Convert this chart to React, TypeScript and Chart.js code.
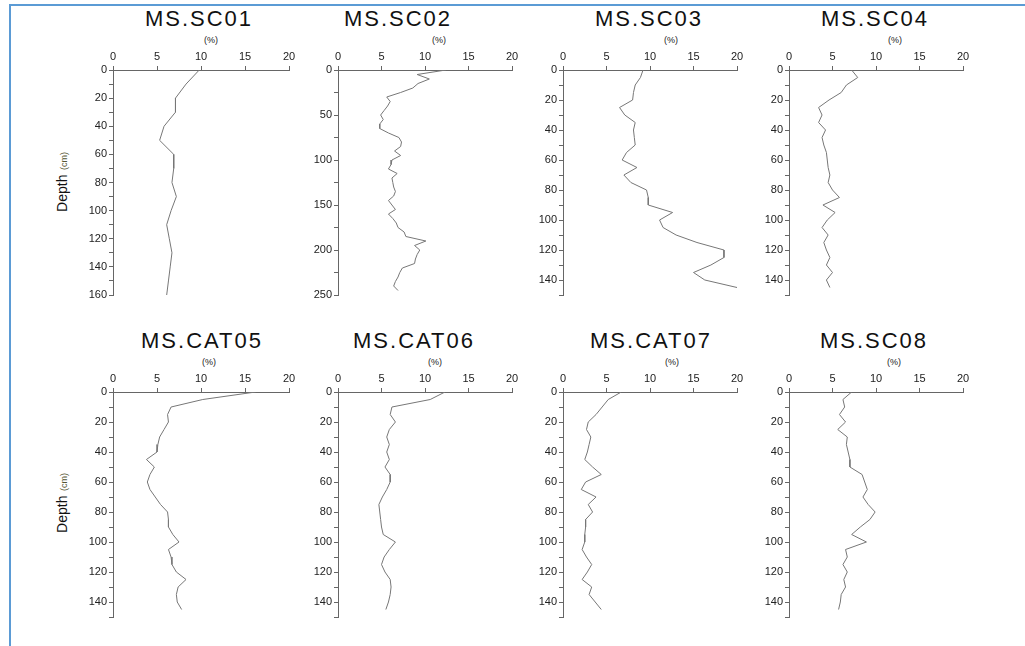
import React, { useEffect, useRef } from "react";
import { Chart, registerables } from "chart.js";

Chart.register(...registerables);

// Magnetic susceptibility (%) against core depth (cm)
const depthsSC01 = [0, 10, 20, 30, 40, 50, 60, 70, 80, 90, 100, 110, 120, 130, 140, 150, 160];
const valuesSC01 = [9.8, 8.3, 7.1, 7.1, 5.8, 5.3, 6.9, 6.9, 6.7, 7.2, 6.6, 6.1, 6.4, 6.7, 6.5, 6.3, 6.1];

const depthsSC02 = [
  0, 5, 10, 15, 20, 25, 30, 35, 40, 45, 50, 55, 60, 65, 70, 75, 80, 85, 90, 95, 100, 105, 110, 115, 120,
  125, 130, 135, 140, 145, 150, 155, 160, 165, 170, 175, 180, 185, 190, 195, 200, 205, 210, 215, 220, 225,
  230, 235, 240, 245,
];
const valuesSC02 = [
  12.4, 9.1, 10.5, 9.2, 8.6, 7.2, 5.6, 6.0, 5.7, 5.3, 4.9, 5.2, 4.8, 4.8, 5.8, 7.0, 7.3, 7.2, 6.5, 7.2, 6.2,
  6.1, 5.8, 6.8, 6.2, 6.3, 6.4, 6.6, 6.4, 5.8, 6.2, 6.6, 5.8, 6.3, 6.7, 6.9, 7.6, 7.8, 10.1, 8.8, 9.4, 9.1,
  8.9, 8.8, 7.4, 7.1, 6.9, 6.6, 6.4, 6.9,
];

// Shared sampling depths of the 150 cm cores
const depths150 = [
  0, 5, 10, 15, 20, 25, 30, 35, 40, 45, 50, 55, 60, 65, 70, 75, 80, 85, 90, 95, 100, 105, 110, 115, 120,
  125, 130, 135, 140, 145,
];
const valuesSC03 = [
  9.2, 8.9, 8.3, 8.1, 8.0, 6.5, 7.1, 8.3, 8.1, 8.2, 8.3, 7.3, 6.8, 8.5, 7.0, 7.8, 9.6, 9.8, 9.8, 12.6, 11.1,
  11.5, 13.0, 15.4, 18.5, 18.5, 17.0, 15.0, 16.3, 20.0,
];
const valuesSC04 = [
  7.2, 7.9, 6.6, 6.0, 4.6, 3.4, 3.8, 3.4, 4.2, 3.8, 4.0, 4.3, 4.4, 4.5, 4.7, 4.5, 5.0, 5.8, 3.9, 5.3, 4.4,
  3.8, 4.5, 4.0, 4.3, 4.7, 4.3, 5.0, 4.3, 4.7,
];
const valuesCAT05 = [
  16.2, 10.2, 6.6, 6.2, 6.3, 5.8, 5.3, 5.1, 5.0, 3.8, 4.7, 4.2, 3.9, 4.2, 4.8, 5.4, 6.2, 6.3, 6.3, 6.8, 7.5,
  6.3, 6.6, 6.7, 7.2, 8.3, 7.4, 7.2, 7.3, 7.8,
];
const valuesCAT06 = [
  12.3, 10.6, 6.2, 6.0, 6.6, 5.9, 5.6, 5.9, 5.6, 5.9, 5.4, 6.0, 6.0, 5.6, 5.1, 4.7, 4.8, 4.9, 5.0, 5.2, 6.6,
  5.9, 5.3, 5.0, 5.4, 6.0, 6.1, 6.0, 5.8, 5.5,
];
const valuesCAT07 = [
  6.7, 5.2, 4.5, 3.8, 2.9, 2.7, 3.2, 3.0, 2.8, 2.5, 3.4, 4.4, 2.6, 2.1, 3.8, 2.9, 3.4, 2.6, 2.6, 2.5, 2.5,
  2.2, 2.7, 3.3, 2.8, 2.2, 3.3, 3.0, 3.7, 4.4,
];
const valuesSC08 = [
  7.2, 6.2, 6.4, 5.8, 6.5, 5.6, 6.7, 6.6, 6.8, 7.0, 7.0, 8.4, 8.7, 9.0, 8.5, 9.1, 9.9, 9.3, 8.2, 7.2, 8.9,
  6.5, 6.7, 6.2, 6.7, 6.3, 6.5, 6.0, 5.9, 5.7,
];

const percentTicks = [0, 20];
const percentStep = 5;

const FONT = "'Liberation Sans', Arial, Helvetica, sans-serif";
const AXIS = "#666666";
const LINE = "#777777";
const WY = 40; // width reserved for the depth axis
const HX = 20; // height reserved for the % axis
const PAD_R = 12;
const PAD_B = 10;

type Panel = {
  title: string;
  depths: number[];
  values: number[];
  depthMax: number;
  depthStep: number;
  labelStep: number;
  plotLeft: number;
  plotTop: number;
  plotW: number;
  plotH: number;
  titleX: number;
  unitX: number;
};

const TOP = 70;
const BOTTOM = 392;
const PLOT_H = 225;

const panels: Panel[] = [
  { title: "MS.SC01", depths: depthsSC01, values: valuesSC01, depthMax: 160, depthStep: 10, labelStep: 20, plotLeft: 113, plotTop: TOP, plotW: 176, plotH: PLOT_H, titleX: 199, unitX: 211 },
  { title: "MS.SC02", depths: depthsSC02, values: valuesSC02, depthMax: 250, depthStep: 25, labelStep: 50, plotLeft: 338, plotTop: TOP, plotW: 174, plotH: PLOT_H, titleX: 398, unitX: 439 },
  { title: "MS.SC03", depths: depths150, values: valuesSC03, depthMax: 150, depthStep: 10, labelStep: 20, plotLeft: 563, plotTop: TOP, plotW: 174, plotH: PLOT_H, titleX: 649, unitX: 671 },
  { title: "MS.SC04", depths: depths150, values: valuesSC04, depthMax: 150, depthStep: 10, labelStep: 20, plotLeft: 789, plotTop: TOP, plotW: 174, plotH: PLOT_H, titleX: 875, unitX: 895 },
  { title: "MS.CAT05", depths: depths150, values: valuesCAT05, depthMax: 150, depthStep: 10, labelStep: 20, plotLeft: 113, plotTop: BOTTOM, plotW: 176, plotH: PLOT_H, titleX: 202, unitX: 209 },
  { title: "MS.CAT06", depths: depths150, values: valuesCAT06, depthMax: 150, depthStep: 10, labelStep: 20, plotLeft: 338, plotTop: BOTTOM, plotW: 174, plotH: PLOT_H, titleX: 414, unitX: 435 },
  { title: "MS.CAT07", depths: depths150, values: valuesCAT07, depthMax: 150, depthStep: 10, labelStep: 20, plotLeft: 563, plotTop: BOTTOM, plotW: 174, plotH: PLOT_H, titleX: 651, unitX: 672 },
  { title: "MS.SC08", depths: depths150, values: valuesSC08, depthMax: 150, depthStep: 10, labelStep: 20, plotLeft: 789, plotTop: BOTTOM, plotW: 174, plotH: PLOT_H, titleX: 874, unitX: 894 },
];

function Profile({ p }: { p: Panel }) {
  const ref = useRef<HTMLCanvasElement>(null);

  useEffect(() => {
    const canvas = ref.current;
    if (!canvas) return;
    const tickFont = { family: FONT, size: 11 };
    const chart = new Chart(canvas, {
      type: "line",
      data: {
        datasets: [
          {
            label: p.title,
            data: p.depths.map((d, i) => ({ x: p.values[i], y: d })),
            borderColor: LINE,
            borderWidth: 1,
            pointRadius: 0,
            tension: 0,
            fill: false,
          },
        ],
      },
      options: {
        animation: false,
        responsive: false,
        maintainAspectRatio: false,
        layout: { padding: { left: 0, top: 0, right: PAD_R, bottom: PAD_B } },
        plugins: {
          legend: { display: false },
          tooltip: { enabled: false },
          title: { display: false },
        },
        scales: {
          x: {
            type: "linear",
            position: "top",
            min: percentTicks[0],
            max: percentTicks[1],
            ticks: { stepSize: percentStep, font: tickFont, color: "#222", padding: 2, maxRotation: 0 },
            grid: { drawOnChartArea: false, drawTicks: true, tickLength: 4, color: AXIS },
            border: { color: AXIS, width: 1 },
            afterFit: (s: any) => {
              s.height = HX;
            },
          },
          y: {
            type: "linear",
            reverse: true,
            min: 0,
            max: p.depthMax,
            ticks: {
              stepSize: p.depthStep,
              autoSkip: false,
              font: tickFont,
              color: "#222",
              padding: 2,
              callback: (v: any) => (Number(v) % p.labelStep === 0 ? String(v) : ""),
            },
            grid: { drawOnChartArea: false, drawTicks: true, tickLength: 4, color: AXIS },
            border: { color: AXIS, width: 1 },
            afterFit: (s: any) => {
              s.width = WY;
            },
          },
        },
      },
    });
    return () => chart.destroy();
  }, [p]);

  const w = WY + p.plotW + PAD_R;
  const h = HX + p.plotH + PAD_B;
  return (
    <canvas
      ref={ref}
      width={w}
      height={h}
      style={{ position: "absolute", left: p.plotLeft - WY, top: p.plotTop - HX, width: w, height: h }}
    />
  );
}

function PanelTexts({ p }: { p: Panel }) {
  const titleTop = p.plotTop - 62;
  const unitTop = p.plotTop - 34;
  return (
    <>
      <div
        style={{
          position: "absolute",
          left: p.titleX - 100,
          top: titleTop,
          width: 200,
          textAlign: "center",
          fontFamily: FONT,
          fontSize: 22,
          lineHeight: "22px",
          letterSpacing: 2,
          color: "#111",
          whiteSpace: "nowrap",
        }}
      >
        {p.title}
      </div>
      <div
        style={{
          position: "absolute",
          left: p.unitX - 20,
          top: unitTop,
          width: 40,
          textAlign: "center",
          fontFamily: FONT,
          fontSize: 9,
          lineHeight: "9px",
          color: "#222",
        }}
      >
        (%)
      </div>
    </>
  );
}

function DepthLabel({ cy }: { cy: number }) {
  return (
    <div
      style={{
        position: "absolute",
        left: 62 - 50,
        top: cy - 10,
        width: 100,
        height: 20,
        lineHeight: "20px",
        textAlign: "center",
        transform: "rotate(-90deg)",
        fontFamily: FONT,
        color: "#111",
        whiteSpace: "nowrap",
      }}
    >
      <span style={{ fontSize: 14 }}>Depth</span> <span style={{ fontSize: 9, color: "#553" }}>(cm)</span>
    </div>
  );
}

export default function App() {
  return (
    <div style={{ position: "absolute", left: 0, top: 0, width: 1025, height: 646, background: "#fff", overflow: "hidden" }}>
      <div style={{ position: "absolute", left: 9, top: 4, width: 1016, height: 2, background: "#5B9BD5" }} />
      <div style={{ position: "absolute", left: 9, top: 4, width: 2, height: 642, background: "#5B9BD5" }} />
      {panels.map((p) => (
        <Profile key={p.title} p={p} />
      ))}
      {panels.map((p) => (
        <PanelTexts key={p.title + "-t"} p={p} />
      ))}
      <DepthLabel cy={182} />
      <DepthLabel cy={503} />
    </div>
  );
}
